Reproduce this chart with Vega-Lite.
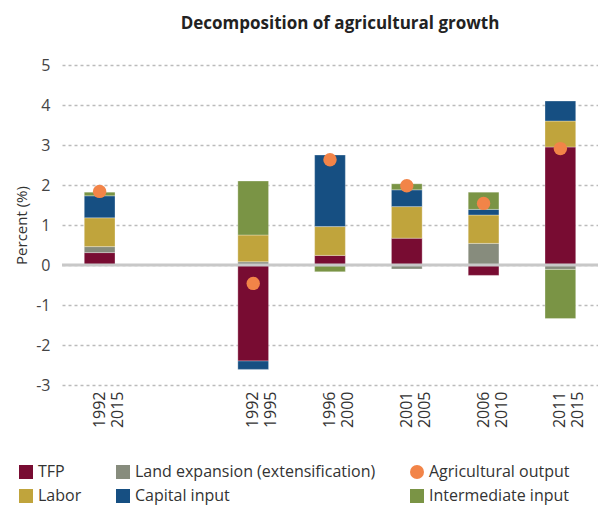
{
  "$schema": "https://vega.github.io/schema/vega-lite/v6.json",
  "width": 536,
  "height": 320,
  "autosize": "none",
  "padding": {"left": 62, "top": 65, "right": 0, "bottom": 121},
  "title": {"text": "Decomposition of agricultural growth", "font": "Open Sans", "fontSize": 17, "fontWeight": "bold", "color": "#222", "anchor": "middle", "frame": "group", "dx": 10, "offset": 24},
  "config": {"view": {"stroke": null}, "font": "Open Sans"},
  "datasets": {
    "bars": [
      {"period": "1992 2015", "component": "TFP", "value": 0.31},
      {"period": "1992 2015", "component": "Land expansion (extensification)", "value": 0.15},
      {"period": "1992 2015", "component": "Labor", "value": 0.72},
      {"period": "1992 2015", "component": "Capital input", "value": 0.55},
      {"period": "1992 2015", "component": "Intermediate input", "value": 0.09},
      {"period": "1992 1995", "component": "TFP", "value": -2.4},
      {"period": "1992 1995", "component": "Land expansion (extensification)", "value": 0.08},
      {"period": "1992 1995", "component": "Labor", "value": 0.67},
      {"period": "1992 1995", "component": "Capital input", "value": -0.21},
      {"period": "1992 1995", "component": "Intermediate input", "value": 1.35},
      {"period": "1996 2000", "component": "TFP", "value": 0.24},
      {"period": "1996 2000", "component": "Land expansion (extensification)", "value": -0.02},
      {"period": "1996 2000", "component": "Labor", "value": 0.72},
      {"period": "1996 2000", "component": "Capital input", "value": 1.79},
      {"period": "1996 2000", "component": "Intermediate input", "value": -0.15},
      {"period": "2001 2005", "component": "TFP", "value": 0.67},
      {"period": "2001 2005", "component": "Land expansion (extensification)", "value": -0.1},
      {"period": "2001 2005", "component": "Labor", "value": 0.79},
      {"period": "2001 2005", "component": "Capital input", "value": 0.42},
      {"period": "2001 2005", "component": "Intermediate input", "value": 0.15},
      {"period": "2006 2010", "component": "TFP", "value": -0.26},
      {"period": "2006 2010", "component": "Land expansion (extensification)", "value": 0.54},
      {"period": "2006 2010", "component": "Labor", "value": 0.71},
      {"period": "2006 2010", "component": "Capital input", "value": 0.14},
      {"period": "2006 2010", "component": "Intermediate input", "value": 0.43},
      {"period": "2011 2015", "component": "TFP", "value": 2.95},
      {"period": "2011 2015", "component": "Land expansion (extensification)", "value": -0.11},
      {"period": "2011 2015", "component": "Labor", "value": 0.65},
      {"period": "2011 2015", "component": "Capital input", "value": 0.5},
      {"period": "2011 2015", "component": "Intermediate input", "value": -1.23}
    ],
    "output": [
      {"period": "1992 2015", "component": "Agricultural output", "value": 1.84},
      {"period": "1992 1995", "component": "Agricultural output", "value": -0.46},
      {"period": "1996 2000", "component": "Agricultural output", "value": 2.63},
      {"period": "2001 2005", "component": "Agricultural output", "value": 1.98},
      {"period": "2006 2010", "component": "Agricultural output", "value": 1.54},
      {"period": "2011 2015", "component": "Agricultural output", "value": 2.91}
    ]
  },
  "layer": [
    {
      "data": {"name": "bars"},
      "transform": [{"calculate": "indexof(['TFP','Land expansion (extensification)','Labor','Capital input','Intermediate input'], datum.component)", "as": "ord"}],
      "mark": {"type": "bar", "stroke": "#ffffff", "strokeWidth": 0.5, "strokeOpacity": 0.6},
      "encoding": {
        "x": {
          "field": "period", "type": "nominal",
          "scale": {"domain": ["1992 2015", "gap", "1992 1995", "1996 2000", "2001 2005", "2006 2010", "2011 2015"], "paddingInner": 0.6, "paddingOuter": 0.29},
          "axis": {"title": null, "domain": false, "ticks": false, "labelAngle": 270, "labelAlign": "right", "labelBaseline": "middle", "labelPadding": 6, "labelFontSize": 16, "labelColor": "#333", "labelFont": "Open Sans", "labelOverlap": false, "labelExpr": "datum.value == 'gap' ? '' : split(datum.value, ' ')"}
        },
        "y": {
          "field": "value", "type": "quantitative", "stack": "zero",
          "scale": {"domain": [-3, 5], "nice": false},
          "axis": {"title": "Percent (%)", "titleFont": "Open Sans", "titleFontSize": 15, "titleFontWeight": "normal", "titleColor": "#333", "titlePadding": 6, "labelFontSize": 16, "labelColor": "#444", "labelPadding": 12, "labelOverlap": false, "labelBound": false, "labelFlush": false, "domain": false, "ticks": false, "tickCount": 8, "labelExpr": "replace(datum.label, '−', '-')", "gridDash": [3, 3], "gridColor": "#bbbbbb", "gridWidth": 1.5}
        },
        "color": {
          "field": "component", "type": "nominal",
          "scale": {"domain": ["TFP", "Labor", "Land expansion (extensification)", "Capital input", "Agricultural output", "Intermediate input"], "range": ["#780c32", "#c0a43c", "#878c7d", "#164f82", "#f28448", "#7a9445"]},
          "legend": {"orient": "none", "legendX": -44, "legendY": 399, "columns": 3, "title": null, "labelFont": "Open Sans", "labelFontSize": 16, "labelColor": "#333", "labelLimit": 400, "symbolSize": 196, "symbolStrokeWidth": 0, "symbolOpacity": 1, "columnPadding": 33, "rowPadding": 8, "labelOffset": 4}
        },
        "order": {"field": "ord", "type": "quantitative"}
      }
    },
    {
      "data": {"values": [{}]},
      "mark": {"type": "rule", "color": "#c8c8c8", "strokeWidth": 3},
      "encoding": {"y": {"datum": 0}}
    },
    {
      "data": {"name": "output"},
      "mark": {"type": "point", "filled": true, "size": 180, "opacity": 1},
      "encoding": {
        "x": {"field": "period", "type": "nominal"},
        "y": {"field": "value", "type": "quantitative"},
        "color": {"field": "component", "type": "nominal"},
        "shape": {
          "field": "component", "type": "nominal",
          "scale": {"domain": ["TFP", "Labor", "Land expansion (extensification)", "Capital input", "Agricultural output", "Intermediate input"], "range": ["square", "square", "square", "square", "circle", "square"]},
          "legend": {"orient": "none", "legendX": -44, "legendY": 399, "columns": 3, "title": null, "labelFont": "Open Sans", "labelFontSize": 16, "labelColor": "#333", "labelLimit": 400, "symbolSize": 196, "symbolStrokeWidth": 0, "symbolOpacity": 1, "columnPadding": 33, "rowPadding": 8, "labelOffset": 4}
        }
      }
    }
  ]
}
